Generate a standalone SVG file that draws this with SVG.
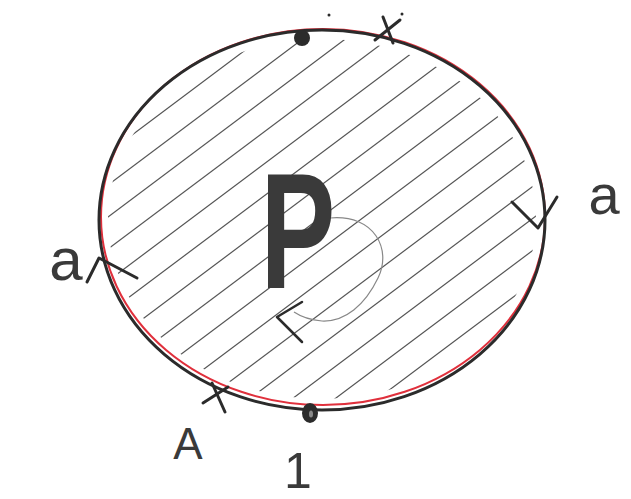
<svg xmlns="http://www.w3.org/2000/svg" width="631" height="499" viewBox="0 0 631 499">
<style>
.ink{fill:none;stroke:#2b2b2b;stroke-linecap:round;stroke-linejoin:round}
.hatch{stroke:#555;stroke-width:1.2;fill:none}
.lbl{font-family:"Liberation Sans",Arial,sans-serif;fill:#3a3a3a}
</style>
<defs>
<clipPath id="inside"><ellipse cx="322" cy="219" rx="214" ry="180"/></clipPath>
</defs>
<rect width="631" height="499" fill="#fff"/>
<g id="region">
<g clip-path="url(#inside)">
<g class="hatch">
<line x1="80" y1="174" x2="560" y2="-186"/>
<line x1="80" y1="206" x2="560" y2="-154"/>
<line x1="80" y1="238" x2="560" y2="-122"/>
<line x1="80" y1="270" x2="560" y2="-90"/>
<line x1="80" y1="302" x2="560" y2="-58"/>
<line x1="80" y1="334" x2="560" y2="-26"/>
<line x1="80" y1="366" x2="560" y2="6"/>
<line x1="80" y1="398" x2="560" y2="38"/>
<line x1="80" y1="430" x2="560" y2="70"/>
<line x1="80" y1="462" x2="560" y2="102"/>
<line x1="80" y1="494" x2="560" y2="134"/>
<line x1="80" y1="526" x2="560" y2="166"/>
<line x1="80" y1="558" x2="560" y2="198"/>
<line x1="80" y1="590" x2="560" y2="230"/>
<line x1="80" y1="622" x2="560" y2="262"/>
<line x1="80" y1="654" x2="560" y2="294"/>
</g>
</g>
<ellipse cx="323" cy="217" rx="222" ry="188" fill="none" stroke="#e0303c" stroke-width="2"/>
<ellipse cx="322" cy="220" rx="223" ry="190" class="ink" stroke-width="3"/>
</g>
<g id="edges">
<path d="M87,282 L99,258 L137,278" class="ink" stroke-width="3"/>
<path d="M512,202 L538,228 L557,197" class="ink" stroke-width="3"/>
<path d="M330,218 C375,214 392,250 378,278 C365,305 345,322 322,321 C310,320 300,316 294,312" fill="none" stroke="#888" stroke-width="1.2"/>
<path d="M302,302 L277,317 L302,342" class="ink" stroke-width="2.5"/>
</g>
<g id="top-dot"><circle cx="302" cy="38" r="8" fill="#2b2b2b"/><circle cx="329" cy="15" r="1.5" fill="#2b2b2b"/></g>
<g id="top-x"><path d="M375,40 L400,20 M383,17 L393,43" class="ink" stroke-width="3"/><circle cx="402" cy="14" r="1.5" fill="#2b2b2b"/></g>
<g id="bottom-x"><path d="M212,383 L225,412 M203,403 L228,387" class="ink" stroke-width="3"/></g>
<g id="bottom-dot"><ellipse cx="310" cy="413" rx="8" ry="10" fill="#2b2b2b"/><ellipse cx="311" cy="414" rx="2" ry="3.5" fill="#888"/></g>
<g id="labels">
<text x="0" y="0" class="lbl" font-size="165" text-anchor="middle" font-weight="bold" transform="translate(298,288) scale(0.68,1)">P</text>
<text x="66" y="280" class="lbl" font-size="60" text-anchor="middle">a</text>
<text x="604" y="214" class="lbl" font-size="56" text-anchor="middle">a</text>
<text x="188" y="459" class="lbl" font-size="44" text-anchor="middle">A</text>
<text x="298" y="488" class="lbl" font-size="50" text-anchor="middle">1</text>
</g>
</svg>
